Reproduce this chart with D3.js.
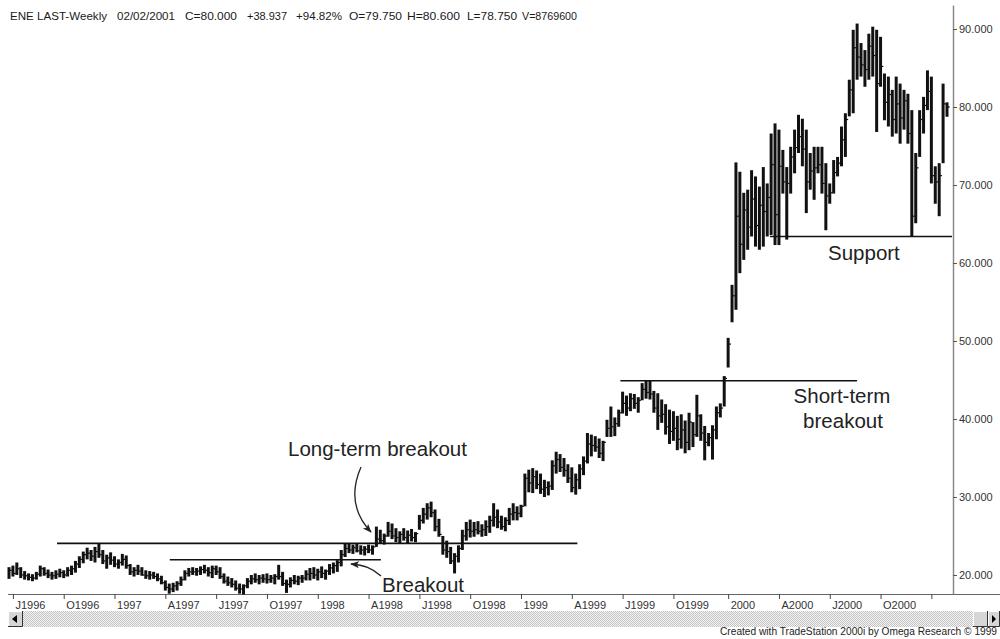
<!DOCTYPE html>
<html>
<head>
<meta charset="utf-8">
<script src="https://cdn.jsdelivr.net/npm/d3@7"></script>
<style>
  body { margin: 0; background: #fff; }
  svg { display: block; font-family: Arial, "Liberation Sans", sans-serif; }
</style>
</head>
<body>
<svg id="chart" width="1000" height="639"></svg>
<script>
// <--Data--> //
var firstWeek = "1996-06-28";

var highs = [
  21.0, 21.2, 21.6, 21.0, 20.5, 20.2, 20.1, 20.4, 21.2, 21.0,
  20.7, 20.4, 20.6, 20.8, 20.6, 21.0, 21.2, 21.8, 22.4, 23.0,
  23.5, 23.2, 23.6, 24.1, 23.2, 22.6, 22.9, 22.4, 22.0, 22.7,
  22.5, 21.4, 21.0, 21.3, 21.0, 20.6, 20.5, 20.4, 20.2, 19.9,
  19.3, 18.9, 19.0, 19.2, 19.8, 20.6, 20.9, 21.0, 20.9, 21.1,
  21.3, 21.0, 21.2, 21.2, 21.0, 20.2, 19.8, 19.6, 19.3,
  18.9, 18.8, 19.6, 20.0, 20.2, 20.0, 20.1, 20.2, 20.0, 20.1,
  21.3, 20.4, 19.4, 19.7, 20.0, 19.9, 20.0, 20.6, 20.9, 21.0,
  20.8, 21.1, 20.7, 21.4, 21.6, 21.9, 23.2, 24.1, 24.1, 23.9,
  24.0, 23.8, 23.7, 23.9, 23.8, 26.2, 25.8, 25.3, 26.8, 26.6,
  26.0, 25.6, 26.0, 25.7, 25.9, 25.5, 27.7, 28.6, 29.2, 29.4,
  28.4, 27.2, 25.0, 24.4, 23.6, 22.8, 23.8, 25.8, 26.8, 27.1,
  26.8, 26.9, 26.5, 27.0, 27.6, 29.2, 28.4, 27.6, 27.4, 28.6,
  29.2, 28.8, 29.0, 33.0, 33.5, 33.7, 33.4, 33.0, 32.2, 32.0,
  34.7, 35.8, 35.5, 35.0, 34.2, 33.8, 33.0, 34.2, 35.2, 38.2,
  38.0, 37.8, 37.5, 37.2, 39.9, 41.6, 40.2, 41.2, 43.5, 43.0,
  43.3, 43.2, 42.8, 44.6, 44.9, 44.9, 43.6, 43.3, 42.5, 41.9,
  41.2, 41.0, 40.4, 40.6, 39.8, 40.8, 39.6, 43.1, 40.6, 39.1,
  38.2, 39.2, 41.6, 42.0, 45.5, 50.4, 57.2, 72.9, 71.7, 69.0,
  69.4, 71.9, 71.1, 69.8, 72.3, 70.2, 76.6, 77.9, 77.1, 74.5,
  72.3, 74.9, 77.1, 79.0, 78.5, 77.1, 74.1, 74.9, 74.9, 74.9,
  72.8, 70.2, 73.2, 73.6, 77.5, 79.2, 83.5, 89.9, 90.7, 88.2,
  87.3, 89.4, 90.3, 89.9, 89.0, 84.3, 83.9, 82.2, 83.9, 83.0,
  82.2, 81.7, 79.6, 74.1, 79.6, 81.3, 84.7, 83.9, 72.4, 72.8,
  83.0, 80.6
];

var lows = [
  19.5, 19.8, 20.0, 19.6, 19.4, 19.3, 19.2, 19.4, 19.8, 19.9,
  19.6, 19.4, 19.5, 19.7, 19.6, 19.8, 20.0, 20.3, 20.9, 21.5,
  22.0, 21.8, 21.6, 22.2, 21.4, 20.8, 21.3, 21.0, 20.8, 21.2,
  20.8, 20.0, 19.8, 20.0, 19.9, 19.5, 19.4, 19.5, 19.2, 18.8,
  18.0, 17.6, 17.8, 18.0, 18.6, 19.3, 19.8, 20.0, 19.9, 20.0,
  20.2, 19.8, 19.6, 20.0, 19.5, 18.9, 18.6, 18.4, 18.0,
  17.6, 17.5, 18.3, 18.8, 19.0, 18.8, 19.0, 18.9, 19.0, 18.8,
  19.4, 18.6, 17.7, 18.4, 18.8, 18.7, 19.0, 19.3, 19.3, 19.5,
  19.3, 19.6, 19.4, 20.0, 20.2, 20.4, 21.1, 22.3, 22.8, 22.7,
  22.9, 22.6, 22.5, 22.8, 22.6, 23.6, 24.0, 23.9, 24.9, 24.6,
  24.2, 24.1, 24.4, 24.1, 24.3, 24.2, 25.8, 26.6, 27.1, 27.4,
  25.6, 24.9, 22.6, 22.2, 21.4, 20.2, 21.6, 23.2, 24.4, 24.8,
  24.9, 25.2, 24.9, 25.0, 25.4, 26.2, 26.0, 25.8, 25.6, 26.4,
  27.0, 27.0, 27.4, 28.8, 30.6, 30.5, 31.0, 30.4, 30.0, 30.2,
  30.9, 33.0, 33.2, 32.6, 31.8, 30.6, 30.3, 31.0, 32.8, 34.3,
  35.2, 35.8, 35.0, 34.6, 37.7, 37.7, 37.8, 39.0, 40.7, 40.4,
  41.0, 41.3, 40.8, 42.4, 42.6, 42.5, 40.8, 38.6, 39.5, 38.0,
  36.8, 37.2, 36.0, 36.2, 35.6, 36.0, 36.4, 37.7, 37.2, 34.7,
  36.5, 34.8, 37.4, 40.2, 41.6, 46.6, 52.4, 54.0, 58.7, 60.4,
  61.7, 63.4, 62.1, 61.7, 62.1, 63.4, 63.6, 62.3, 62.3, 68.9,
  63.0, 68.9, 71.5, 74.1, 72.4, 66.4, 69.4, 68.1, 71.5, 68.9,
  64.2, 67.6, 68.9, 71.1, 72.4, 73.6, 78.8, 79.2, 83.5, 83.9,
  82.6, 83.5, 83.9, 76.8, 82.6, 78.3, 77.5, 76.2, 76.6, 75.3,
  77.1, 75.3, 63.4, 65.1, 73.6, 76.6, 79.6, 70.2, 67.6, 66.0,
  72.8, 78.75
];

var closes = [
  20.6, 20.2, 20.8, 20.0, 19.9, 19.7, 19.6, 20.1, 20.8, 20.2,
  20.0, 19.9, 20.1, 20.3, 20.0, 20.6, 20.8, 21.4, 22.0, 22.6,
  22.8, 22.4, 23.0, 22.6, 21.8, 22.2, 21.9, 21.4, 21.6, 22.0,
  21.2, 20.4, 20.6, 20.5, 20.0, 19.9, 20.0, 19.8, 19.5, 19.0,
  18.4, 18.2, 18.6, 18.9, 19.4, 20.2, 20.4, 20.4, 20.5, 20.7,
  20.6, 20.3, 20.8, 20.4, 19.8, 19.2, 19.0, 18.8, 18.3,
  18.2, 18.6, 19.2, 19.5, 19.4, 19.6, 19.5, 19.4, 19.6, 19.8,
  19.8, 18.9, 18.8, 19.3, 19.2, 19.6, 19.6, 20.1, 20.2, 20.0,
  20.4, 20.2, 20.5, 20.9, 21.2, 21.6, 22.6, 23.4, 23.2, 23.5,
  23.1, 23.2, 23.3, 23.2, 23.6, 24.6, 24.4, 25.0, 25.6, 25.0,
  24.8, 25.2, 24.8, 25.1, 24.8, 25.3, 27.0, 27.8, 28.6, 28.0,
  26.2, 25.2, 23.2, 23.0, 21.8, 22.4, 23.4, 25.0, 25.8, 25.6,
  25.8, 25.6, 25.8, 26.2, 27.0, 27.4, 26.8, 26.2, 27.0, 27.8,
  28.0, 27.9, 28.8, 32.4, 31.8, 32.6, 31.6, 31.0, 31.2, 31.4,
  34.0, 34.8, 33.8, 33.4, 32.4, 31.2, 32.2, 33.6, 34.6, 36.8,
  36.6, 36.4, 35.6, 37.0, 38.8, 39.0, 39.4, 40.8, 42.0, 41.4,
  42.6, 42.0, 42.4, 43.8, 43.4, 43.2, 41.4, 40.4, 40.6, 39.0,
  38.4, 38.8, 37.4, 38.6, 37.0, 39.6, 38.0, 40.4, 38.2, 37.0,
  37.6, 38.6, 40.8, 41.4, 45.2, 49.6, 55.8, 66.0, 62.4, 66.8,
  64.6, 68.2, 64.8, 67.4, 66.6, 68.4, 72.6, 66.2, 72.4, 70.4,
  70.2, 73.6, 74.8, 76.2, 74.6, 70.4, 71.8, 72.2, 72.6, 70.2,
  68.6, 69.0, 71.6, 72.8, 75.8, 78.4, 82.2, 87.6, 86.4, 85.4,
  84.8, 87.8, 86.6, 83.0, 85.2, 80.6, 81.6, 78.4, 80.4, 78.6,
  80.8, 76.6, 66.0, 72.2, 78.4, 80.2, 82.0, 71.2, 70.4, 71.2,
  80.4, 80.0
];

var priceTicks = [20, 30, 40, 50, 60, 70, 80, 90];

var quarterStarts = ["1996-07-01", "1996-10-01", "1997-01-01", "1997-04-01", "1997-07-01",
  "1997-10-01", "1998-01-01", "1998-04-01", "1998-07-01", "1998-10-01", "1999-01-01",
  "1999-04-01", "1999-07-01", "1999-10-01", "2000-01-01", "2000-04-01", "2000-07-01",
  "2000-10-01", "2001-01-01"];
var quarterLabels = ["J1996", "O1996", "1997", "A1997", "J1997", "O1997", "1998", "A1998",
  "J1998", "O1998", "1999", "A1999", "J1999", "O1999", "2000", "A2000", "J2000", "O2000", ""];

// trend lines drawn on the chart: start, end, price level
var levelFrom = ["1996-09-22", "1997-04-12", "1999-06-28", "2000-03-22"];
var levelTo = ["1999-04-12", "1998-04-25", "2000-08-25", "2001-02-11"];
var levelPrice = [24.05, 21.95, 44.9, 63.4];

var headerFields = ["ENE LAST-Weekly", "02/02/2001", "C=80.000", "+38.937", "+94.82%",
  "O=79.750", "H=80.600", "L=78.750", "V=8769600"];

// <--Init--> //
var parse = d3.utcParse("%Y-%m-%d");
var start = parse(firstWeek);
var bars = highs.map(function(h, i) {
  return { date: d3.utcDay.offset(start, 7 * i), high: h, low: lows[i], close: closes[i] };
});
var tickDates = quarterStarts.map(function(q) {
  var d = parse(q);
  return bars.find(function(b) { return b.date >= d; }).date;
});

var svg = d3.select("#chart");
var defs = svg.append("defs");

var x = d3.scaleUtc()
  .domain([bars[0].date, bars[bars.length - 1].date])
  .range([9, 947]);
var y = d3.scaleLinear()
  .domain([17.56, 93.08])
  .range([594, 5]);

// <--Header--> //
var headerX = [10, 117, 185, 247, 296, 349, 407, 467, 522];
var headerW = [97, 58, 52, 40, 46, 53, 53, 50, 55];
svg.append("g")
  .selectAll("text")
  .data(headerFields)
  .enter().append("text")
  .attr("x", function(d, i) { return headerX[i]; })
  .attr("y", 20)
  .attr("textLength", function(d, i) { return headerW[i]; })
  .attr("lengthAdjust", "spacingAndGlyphs")
  .style("font-size", "11px")
  .style("fill", "#1a1a1a")
  .text(function(d) { return d; });

// <--Axes--> //
var yAxis = svg.append("g")
  .attr("transform", "translate(953,0)")
  .call(d3.axisRight(y).tickValues(priceTicks).tickSize(4).tickSizeOuter(0).tickPadding(2)
    .tickFormat(d3.format(".3f")));
yAxis.select(".domain").attr("stroke", "#8a8a8a").attr("stroke-width", 1.5);
yAxis.selectAll(".tick line").attr("stroke", "#555");
yAxis.selectAll(".tick text").style("font-size", "11px").style("fill", "#333")
  .style("font-family", "Arial, 'Liberation Sans', sans-serif");

svg.append("line")
  .attr("x1", 8).attr("x2", 1000)
  .attr("y1", 594.5).attr("y2", 594.5)
  .attr("stroke", "#666").attr("stroke-width", 1.2);

var xAxis = svg.append("g")
  .attr("transform", "translate(0,594)")
  .call(d3.axisBottom(x).tickValues(tickDates).tickSize(5).tickPadding(2)
    .tickFormat(function(d, i) { return quarterLabels[i]; }));
xAxis.select(".domain").remove();
xAxis.selectAll(".tick line").attr("stroke", "#444");
xAxis.selectAll(".tick text")
  .attr("text-anchor", "start")
  .attr("dx", 2)
  .style("font-size", "11px").style("fill", "#333")
  .style("font-family", "Arial, 'Liberation Sans', sans-serif");

// <--Bars--> //
var barG = svg.append("g");
barG.selectAll("line.hl")
  .data(bars)
  .enter().append("line")
  .attr("class", "hl")
  .attr("x1", function(d) { return x(d.date); })
  .attr("x2", function(d) { return x(d.date); })
  .attr("y1", function(d) { return y(d.high); })
  .attr("y2", function(d) { return y(d.low); })
  .attr("stroke", "#111")
  .attr("stroke-width", 3);
barG.selectAll("line.cl")
  .data(bars)
  .enter().append("line")
  .attr("class", "cl")
  .attr("x1", function(d) { return x(d.date); })
  .attr("x2", function(d) { return x(d.date) + 2.8; })
  .attr("y1", function(d) { return y(d.close); })
  .attr("y2", function(d) { return y(d.close); })
  .attr("stroke", "#111")
  .attr("stroke-width", 1.2);

// <--Trend lines--> //
svg.append("g").selectAll("line")
  .data(levelPrice)
  .enter().append("line")
  .attr("x1", function(d, i) { return x(parse(levelFrom[i])); })
  .attr("x2", function(d, i) { return x(parse(levelTo[i])); })
  .attr("y1", function(d) { return y(d); })
  .attr("y2", function(d) { return y(d); })
  .attr("stroke", "#111")
  .attr("stroke-width", 1.6);

// <--Annotations--> //
defs.append("marker")
  .attr("id", "head")
  .attr("viewBox", "0 0 10 10")
  .attr("refX", 9).attr("refY", 5)
  .attr("markerWidth", 9).attr("markerHeight", 9)
  .attr("markerUnits", "userSpaceOnUse")
  .attr("orient", "auto")
  .append("path")
  .attr("d", "M0,1 L10,5 L0,9 L2.5,5 Z")
  .attr("fill", "#222");

svg.append("path")
  .attr("d", "M361,467 C351,490 352,512 371,532")
  .attr("fill", "none").attr("stroke", "#222").attr("stroke-width", 1.3)
  .attr("marker-end", "url(#head)");
svg.append("path")
  .attr("d", "M381,576 C372,568 364,565 351,564")
  .attr("fill", "none").attr("stroke", "#222").attr("stroke-width", 1.3)
  .attr("marker-end", "url(#head)");

var notes = svg.append("g")
  .style("font-size", "20.5px")
  .style("fill", "#222");
notes.append("text").attr("x", 288).attr("y", 456).text("Long-term breakout");
notes.append("text").attr("x", 382).attr("y", 592).text("Breakout");
notes.append("text").attr("x", 842).attr("y", 403).attr("text-anchor", "middle").text("Short-term");
notes.append("text").attr("x", 843).attr("y", 428).attr("text-anchor", "middle").text("breakout");
notes.append("text").attr("x", 828).attr("y", 260).text("Support");

// <--Scrollbar--> //
var pat = defs.append("pattern")
  .attr("id", "dither")
  .attr("width", 2).attr("height", 2)
  .attr("patternUnits", "userSpaceOnUse");
pat.append("rect").attr("width", 2).attr("height", 2).attr("fill", "#f4f4f4");
pat.append("rect").attr("width", 1).attr("height", 1).attr("fill", "#c4c4c4");
pat.append("rect").attr("x", 1).attr("y", 1).attr("width", 1).attr("height", 1).attr("fill", "#c4c4c4");

var sb = svg.append("g");
sb.append("rect").attr("x", 23).attr("y", 611).attr("width", 950).attr("height", 16)
  .attr("fill", "url(#dither)");
function button(x0, w, pts) {
  sb.append("rect").attr("x", x0).attr("y", 611).attr("width", w).attr("height", 16)
    .attr("fill", "#d6d6d6");
  sb.append("path").attr("d", "M" + x0 + ",626.5 H" + (x0 + w - 0.5) + " V611")
    .attr("fill", "none").attr("stroke", "#333");
  sb.append("path").attr("d", "M" + (x0 + 0.5) + ",626 V611.5 H" + (x0 + w - 1))
    .attr("fill", "none").attr("stroke", "#fff");
  if (pts) sb.append("path").attr("d", pts).attr("fill", "#000");
}
button(8, 15, "M12,619 L17,615 L17,623 Z");
button(973, 15);
button(988, 12, "M996,619 L992,615 L992,623 Z");

svg.append("text")
  .attr("x", 720).attr("y", 635)
  .attr("textLength", 277)
  .attr("lengthAdjust", "spacingAndGlyphs")
  .style("font-size", "10px").style("fill", "#222")
  .text("Created with TradeStation 2000i by Omega Research \u00a9 1999");
</script>
</body>
</html>
